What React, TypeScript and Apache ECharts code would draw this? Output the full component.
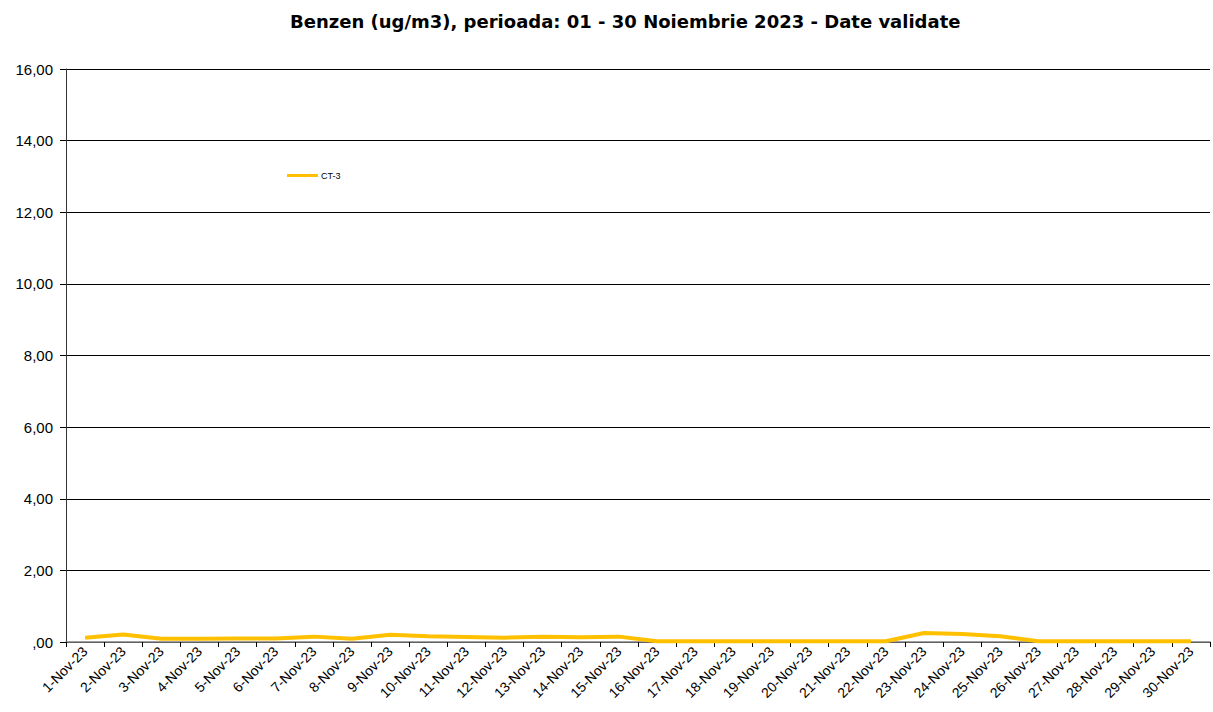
import React, { useEffect, useRef } from "react";
import * as echarts from "echarts";

const categories = [
  "1-Nov-23", "2-Nov-23", "3-Nov-23", "4-Nov-23", "5-Nov-23", "6-Nov-23", "7-Nov-23", "8-Nov-23", "9-Nov-23", "10-Nov-23",
  "11-Nov-23", "12-Nov-23", "13-Nov-23", "14-Nov-23", "15-Nov-23", "16-Nov-23", "17-Nov-23", "18-Nov-23", "19-Nov-23", "20-Nov-23",
  "21-Nov-23", "22-Nov-23", "23-Nov-23", "24-Nov-23", "25-Nov-23", "26-Nov-23", "27-Nov-23", "28-Nov-23", "29-Nov-23", "30-Nov-23",
];
const ct3 = [
  0.12, 0.21, 0.09, 0.09, 0.1, 0.1, 0.15, 0.09, 0.2, 0.16,
  0.14, 0.12, 0.15, 0.13, 0.15, 0.02, 0.02, 0.02, 0.02, 0.02,
  0.02, 0.02, 0.25, 0.22, 0.16, 0.02, 0.02, 0.02, 0.02, 0.02,
];
const seriesName = "CT-3";
const title = "Benzen (ug/m3), perioada: 01 - 30 Noiembrie 2023 - Date validate";

function fmt(v: number): string {
  const s = v.toFixed(2).replace(".", ",");
  return s.startsWith("0,") ? s.slice(1) : s;
}

export default function App() {
  const ref = useRef<HTMLDivElement>(null);
  useEffect(() => {
    if (!ref.current) return;
    const chart = echarts.init(ref.current, null, { renderer: "svg" });
    chart.setOption({
      animation: false,
      backgroundColor: "#ffffff",
      title: {
        text: title,
        left: 285,
        top: 7,
        textStyle: { fontFamily: "DejaVu Sans", fontWeight: "bold", fontSize: 18, color: "#000" },
      },
      legend: {
        left: 282,
        top: 166,
        itemWidth: 31,
        itemHeight: 3,
        itemGap: 4,
        icon: "rect",
        textStyle: { fontFamily: "Liberation Sans", fontSize: 9, color: "#000", padding: [0, 0, 0, -2] },
        data: [seriesName],
      },
      grid: { left: 66, right: 3, top: 69, bottom: 70, containLabel: false },
      xAxis: {
        type: "category",
        data: categories,
        boundaryGap: true,
        axisLine: { lineStyle: { color: "#808080", width: 1.5 } },
        axisTick: { show: true, alignWithLabel: false, length: 5, lineStyle: { color: "#000" } },
        axisLabel: {
          interval: 0,
          rotate: 45,
          fontFamily: "Liberation Sans",
          fontSize: 14,
          color: "#000",
          margin: 7,
        },
        splitLine: { show: false },
      },
      yAxis: {
        type: "value",
        min: 0,
        max: 16,
        interval: 2,
        axisLine: { show: true, lineStyle: { color: "#333", width: 1 } },
        axisTick: { show: true, length: 6, inside: false, lineStyle: { color: "#000" } },
        axisLabel: {
          formatter: (v: number) => fmt(v),
          fontFamily: "Liberation Sans",
          fontSize: 15,
          color: "#000",
          margin: 13,
        },
        splitLine: { show: true, lineStyle: { color: "#000", width: 1 } },
      },
      series: [
        {
          name: seriesName,
          type: "line",
          data: ct3,
          symbol: "none",
          lineStyle: { color: "#FFC000", width: 4 },
          itemStyle: { color: "#FFC000" },
        },
      ],
    });
    return () => chart.dispose();
  }, []);
  return (
    <div
      ref={ref}
      style={{ position: "fixed", left: 0, top: 0, width: 1213, height: 712 }}
    />
  );
}
